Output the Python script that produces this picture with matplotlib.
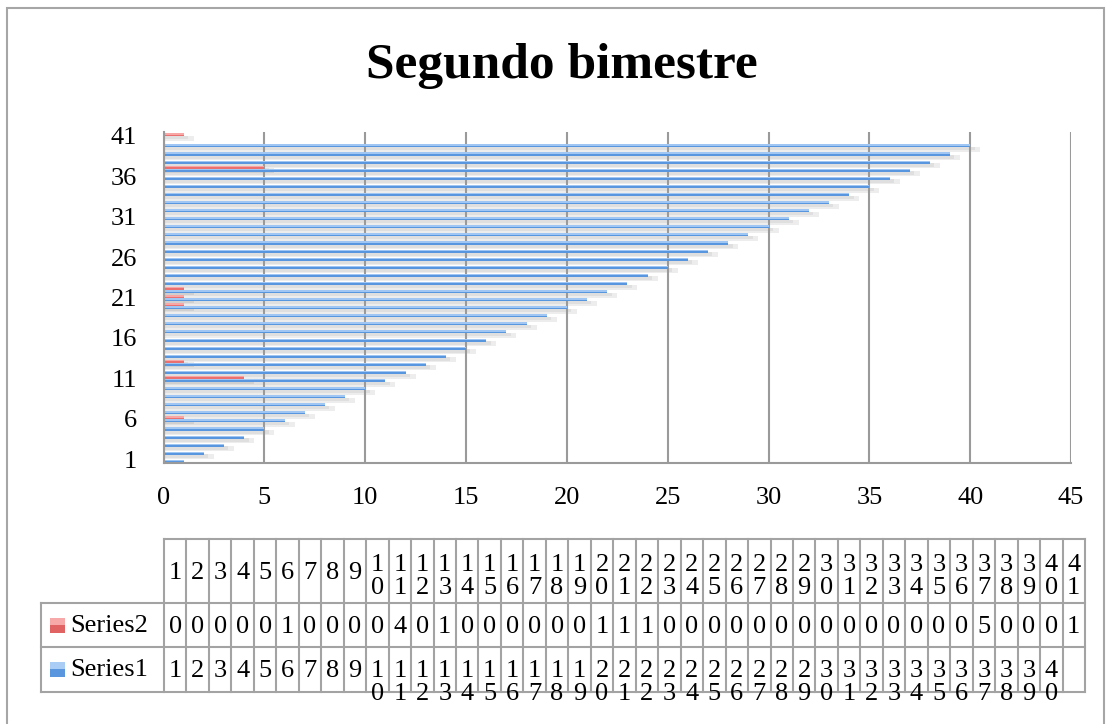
import matplotlib.pyplot as plt
import numpy as np
from matplotlib.patches import Rectangle
from matplotlib.lines import Line2D
from matplotlib.transforms import Bbox, TransformedBbox

categories = list(range(1, 42))
series1 = list(range(1, 41)) + [None]
series2 = [0, 0, 0, 0, 0, 1, 0, 0, 0, 0, 4, 0, 1, 0, 0, 0, 0, 0, 0, 1, 1,
           1, 0, 0, 0, 0, 0, 0, 0, 0, 0, 0, 0, 0, 0, 0, 5, 0, 0, 0, 1]
series_names = ["Series2", "Series1"]
title = "Segundo bimestre"

W, H = 1112, 724
fig = plt.figure(figsize=(W / 100, H / 100), dpi=100)
serif = "Liberation Serif"
fs = 19

def fx(px):
    return px / W

def fy(py):
    return 1 - py / H

# chart border
fig.add_artist(Rectangle((fx(6.5), fy(740)), fx(1104) - fx(6.5), fy(7.5) - fy(740),
                         transform=fig.transFigure, fill=False, ec="#a6a6a6", lw=1.5))

fig.text(fx(562), fy(66), title, ha="center", va="center", fontsize=37,
         fontweight="bold", family=serif)

ax = fig.add_axes([fx(163.5), fy(463.3), fx(1071) - fx(163.5), fy(131.7) - fy(463.3)])
y = np.array(categories, dtype=float)
v1 = np.array([np.nan if v is None else v for v in series1], dtype=float)
v2 = np.array(series2, dtype=float)
v1z = np.nan_to_num(v1)

bh = 0.38
b1 = y - 0.26          # Series1 centre
b2 = b1 + bh           # Series2 sits right on top

# soft shadows under each bar
for hgt, ext, a in [(0.62, 0.5, 0.07), (0.42, 0.22, 0.06)]:
    ax.barh(b1 - bh / 2 - hgt / 2 + 0.05, v1z + ext * (v1z > 0), height=hgt,
            color="black", alpha=a, zorder=1, lw=0)
    ax.barh(b2 - bh / 2 - hgt / 2 + 0.05, v2 + ext * (v2 > 0), height=hgt,
            color="black", alpha=a, zorder=1, lw=0)

ax.barh(b1 - bh / 4, v1, height=bh / 2, color="#5897e0", zorder=3, lw=0)
ax.barh(b1 + bh / 4, v1, height=bh / 2, color="#a0c6f3", zorder=3, lw=0)
ax.barh(b2 - bh / 4, v2, height=bh / 2, color="#ea7070", zorder=3, lw=0)
ax.barh(b2 + bh / 4, v2, height=bh / 2, color="#f8a6a6", zorder=3, lw=0)

ax.set_xlim(0, 45)
ax.set_ylim(0.5, 41.5)
ax.set_xticks(range(0, 46, 5))
ax.set_yticks(categories[::5])
ax.tick_params(length=0, labelsize=fs)
for lab in ax.get_xticklabels() + ax.get_yticklabels():
    lab.set_family(serif)
ax.tick_params(axis="x", pad=17)
ax.tick_params(axis="y", pad=19)
ax.xaxis.grid(True, color="#9a9a9a", lw=1.5, zorder=2)
ax.set_axisbelow(False)
for s in ["top", "right"]:
    ax.spines[s].set_visible(False)
for s in ["left", "bottom"]:
    ax.spines[s].set_color("#9a9a9a")
    ax.spines[s].set_linewidth(1.5)
    ax.spines[s].set_zorder(4)

# data table
col_w = (1085 - 164) / len(categories)
x0 = 164
rows_y = [539.3, 603.3, 647.3, 691.7]
lab_x = 40.7
lc = "#a3a3a3"

def hline(x_a, x_b, yy):
    fig.add_artist(Line2D([fx(x_a), fx(x_b)], [fy(yy), fy(yy)], transform=fig.transFigure,
                          color=lc, lw=1.5))

def vline(xx, y_a, y_b):
    fig.add_artist(Line2D([fx(xx), fx(xx)], [fy(y_a), fy(y_b)], transform=fig.transFigure,
                          color=lc, lw=1.5))

hline(x0, x0 + col_w * len(categories), rows_y[0])
for yy in rows_y[1:]:
    hline(lab_x, x0 + col_w * len(categories), yy)
vline(lab_x, rows_y[1], rows_y[3])
for j in range(len(categories) + 1):
    vline(x0 + j * col_w, rows_y[0], rows_y[3])

clip = TransformedBbox(Bbox([[0, fy(700)], [1, 1]]), fig.transFigure)

def cell_text(cx, val, y_single, y_top, gap=23, clipped=False):
    s = str(val)
    lines = [(s, y_single)] if len(s) == 1 else [(s[0], y_top), (s[1], y_top + gap)]
    for ch, yy in lines:
        t = fig.text(fx(cx), fy(yy), ch, ha="center", va="center", fontsize=fs, family=serif)
        if clipped:
            t.set_clip_on(True)
            t.set_clip_box(clip)

for j, c in enumerate(categories):
    cx = x0 + (j + 0.5) * col_w
    cell_text(cx, c, 573, 565)
    cell_text(cx, series2[j], 627, 627)
    if series1[j] is not None:
        cell_text(cx, series1[j], 671, 671, clipped=True)

# legend keys in row labels
for name, yc, top_c, bot_c in [("Series2", 625, "#f7a8a8", "#e06262"),
                               ("Series1", 669, "#a9cdf5", "#5a96dd")]:
    fig.add_artist(Rectangle((fx(50), fy(yc + 7.5)), fx(15), fy(yc) - fy(yc + 7.5),
                             transform=fig.transFigure, color=bot_c, lw=0))
    fig.add_artist(Rectangle((fx(50), fy(yc)), fx(15), fy(yc - 7.5) - fy(yc),
                             transform=fig.transFigure, color=top_c, lw=0))
    fig.text(fx(70), fy(yc + 1), name, ha="left", va="center", fontsize=fs, family=serif)

fig.savefig("out.png", dpi=100)
